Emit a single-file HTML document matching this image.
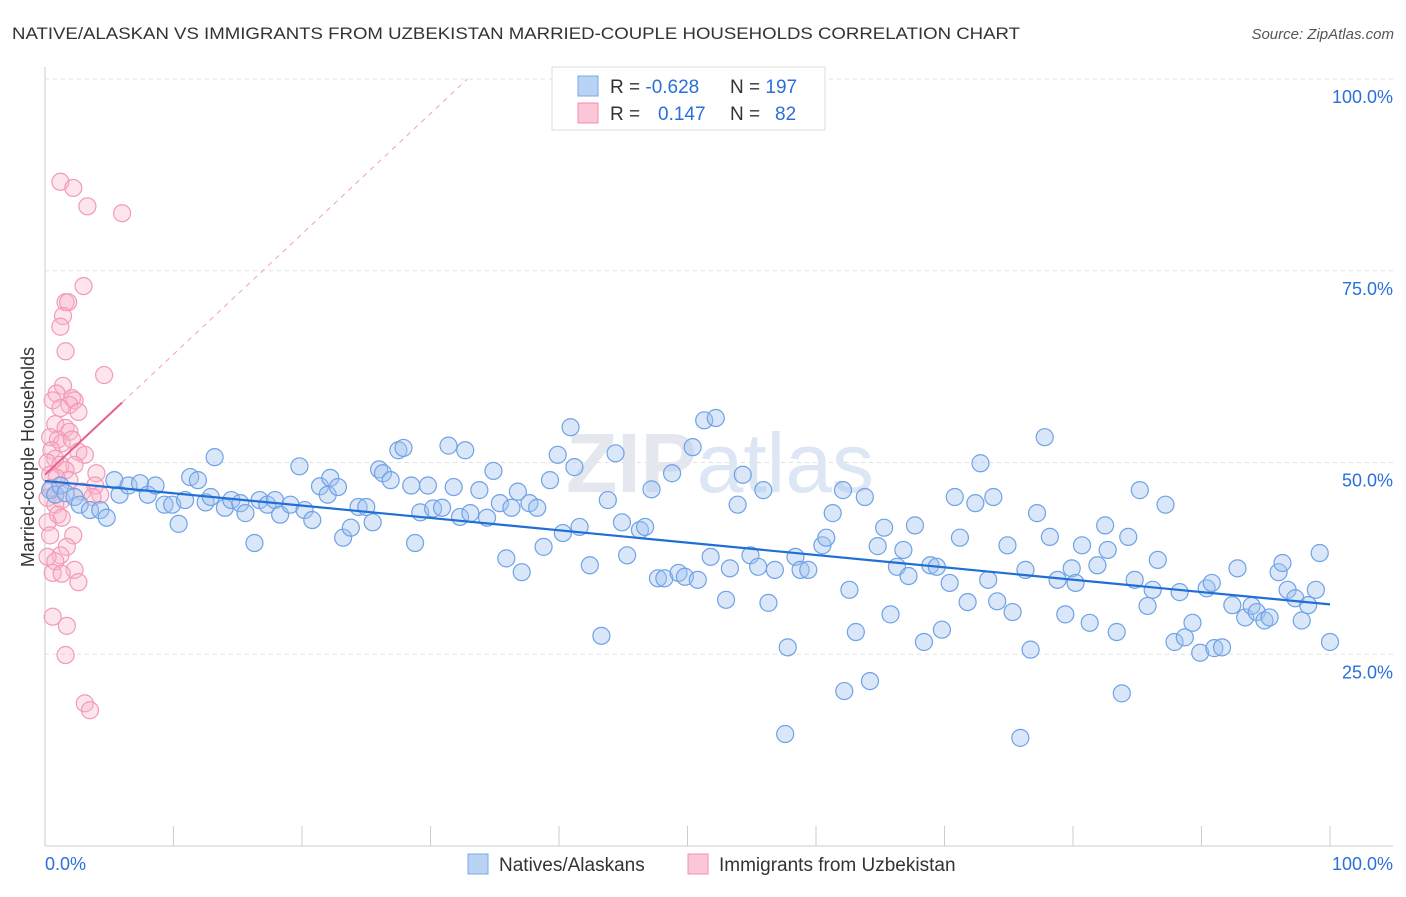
<!DOCTYPE html>
<html><head><meta charset="utf-8"><style>
body{margin:0;background:#fff;font-family:"Liberation Sans",sans-serif;}
svg text{font-family:"Liberation Sans",sans-serif;}
</style></head><body>
<svg id="chart" width="1406" height="892" xmlns="http://www.w3.org/2000/svg">
<text x="12" y="39" font-size="17" fill="#333" textLength="1008" lengthAdjust="spacingAndGlyphs">NATIVE/ALASKAN VS IMMIGRANTS FROM UZBEKISTAN MARRIED-COUPLE HOUSEHOLDS CORRELATION CHART</text>
<text x="1394" y="39" font-size="15" fill="#555" font-style="italic" text-anchor="end">Source: ZipAtlas.com</text>
<g id="grid"></g>
<text x="720" y="492" font-size="84" fill="#e4e8ee" text-anchor="middle" font-family="Liberation Serif" font-weight="bold">ZIP<tspan font-family="Liberation Sans" font-weight="normal" fill="#dce6f4">atlas</tspan></text>
<text transform="translate(34,457) rotate(-90)" font-size="18" fill="#333" text-anchor="middle">Married-couple Households</text>
<g id="marks"></g>
<g>
<rect x="552" y="67" width="273" height="63" fill="#fff" stroke="#ddd"/>
<rect x="578" y="76" width="20" height="20" fill="#b9d3f5" stroke="#7aaae8"/>
<rect x="578" y="103" width="20" height="20" fill="#fbc6d6" stroke="#f08fb0"/>
<text x="610" y="93" font-size="19" fill="#333">R = <tspan fill="#2a6fdb">-0.628</tspan><tspan x="730">N = </tspan><tspan fill="#2a6fdb">197</tspan></text>
<text x="610" y="120" font-size="19" fill="#333">R = <tspan x="658" fill="#2a6fdb">0.147</tspan><tspan x="730">N = </tspan><tspan x="775" fill="#2a6fdb">82</tspan></text>
</g>
<g>
<rect x="468" y="854" width="20" height="20" fill="#b9d3f5" stroke="#7aaae8"/>
<text x="499" y="871" font-size="19" fill="#333">Natives/Alaskans</text>
<rect x="688" y="854" width="20" height="20" fill="#fbc6d6" stroke="#f08fb0"/>
<text x="719" y="871" font-size="19" fill="#333">Immigrants from Uzbekistan</text>
</g>
</svg>
<script>
const yTicks=[25,50,75,100];
const xTickVals=[0,10,20,30,40,50,60,70,80,90,100];
const blueX=[0.4,0.8,1.2,1.6,2.3,2.7,3.5,4.3,4.8,5.4,5.8,6.5,7.4,8,8.6,9.3,9.9,10.4,10.9,11.3,11.9,12.5,12.9,13.2,14,14.5,15.2,15.6,16.3,16.7,17.3,17.9,18.3,19.1,19.8,20.2,20.8,21.4,22,22.2,22.8,23.2,23.8,24.4,25,25.5,26,26.3,26.9,27.5,27.9,28.5,28.8,29.2,29.8,30.2,30.9,31.4,31.8,32.3,32.7,33.1,33.8,34.4,34.9,35.4,35.9,36.3,36.8,37.1,37.7,38.3,38.8,39.3,39.9,40.3,40.9,41.2,41.6,42.4,43.3,43.8,44.4,44.9,45.3,46.3,46.7,47.2,47.7,48.2,48.8,49.3,49.8,50.4,50.8,51.3,51.8,52.2,53,53.3,53.9,54.3,54.9,55.5,55.9,56.3,56.8,57.6,57.8,58.4,58.8,59.4,60.5,60.8,61.3,62.1,62.2,62.6,63.1,63.8,64.2,64.8,65.3,65.8,66.3,66.8,67.2,67.7,68.4,68.9,69.4,69.8,70.4,70.8,71.2,71.8,72.4,72.8,73.4,73.8,74.1,74.9,75.3,76.3,76.7,77.2,77.8,78.2,78.8,79.4,79.9,80.2,80.7,81.3,81.9,82.5,82.7,83.4,83.8,84.3,84.8,85.2,85.8,86.2,86.6,87.2,87.9,88.3,88.7,89.3,89.9,90.4,90.8,91,91.6,92.4,92.8,93.4,93.9,94.3,94.9,95.3,96,96.3,96.7,97.3,97.8,98.3,98.9,99.2,100,75.9];
const blueY=[46.4,45.8,47,46,45.5,44.5,43.8,43.8,42.8,47.7,45.8,47,47.3,45.8,47,44.5,44.5,42,45.1,48.1,47.7,44.8,45.5,50.7,44.1,45.1,44.7,43.4,39.5,45.1,44.5,45.1,43.2,44.5,49.5,43.8,42.5,46.9,45.8,48,46.8,40.2,41.5,44.2,44.2,42.2,49.1,48.6,47.7,51.6,51.9,47,39.5,43.5,47,44,44.1,52.2,46.8,42.9,51.6,43.4,46.4,42.8,48.9,44.7,37.5,44.1,46.2,35.7,44.7,44.1,39,47.7,51,40.8,54.6,49.4,41.6,36.6,27.4,45.1,51.2,42.2,37.9,41.2,41.6,46.5,34.9,34.9,48.6,35.6,35.1,52,34.7,55.5,37.7,55.8,32.1,36.2,44.5,48.4,37.9,36.4,46.4,31.7,36,14.6,25.9,37.7,36,36,39.2,40.2,43.4,46.4,20.2,33.4,27.9,45.5,21.5,39.1,41.5,30.2,36.4,38.6,35.2,41.8,26.6,36.6,36.4,28.2,34.3,45.5,40.2,31.8,44.7,49.9,34.7,45.5,31.9,39.2,30.5,36,25.6,43.4,53.3,40.3,34.7,30.2,36.2,34.3,39.2,29.1,36.6,41.8,38.6,27.9,19.9,40.3,34.7,46.4,31.3,33.4,37.3,44.5,26.6,33.1,27.2,29.1,25.2,33.6,34.3,25.8,25.9,31.4,36.2,29.8,31.3,30.5,29.4,29.8,35.7,36.9,33.4,32.3,29.4,31.4,33.4,38.2,26.6,14.1];
const pinkX=[1.2,2.2,3.3,6,3,1.6,1.8,1.4,1.2,1.6,4.6,1.4,0.9,2.1,0.6,2.3,1.9,2.6,1.2,0.8,1.6,1.9,0.4,1,1.3,2.1,0.5,2.6,3.1,0.8,0.2,1.2,2.3,1.6,0.4,4,0.9,1.9,3.9,0.5,2.9,4.3,0.2,1.3,3.7,0.8,1,1.3,0.2,2.2,0.4,1.7,1.2,0.2,0.8,2.3,0.6,1.3,2.6,0.6,1.7,1.6,3.1,3.5];
const pinkY=[86.6,85.8,83.4,82.5,73,70.9,70.9,69.1,67.7,64.5,61.4,60,59,58.4,58.1,58.1,57.5,56.6,57.1,55,54.5,54,53.3,53,52.5,53,51.6,51.4,51,50.5,50,49.7,49.7,49,48.4,48.6,48,47.7,47,46.7,46.2,45.8,45.4,45.1,45.5,44.5,43.2,42.8,42.2,40.5,40.5,39,37.9,37.7,37.1,36,35.6,35.5,34.4,29.9,28.7,24.9,18.6,17.7];
const blueTrend=[47.6,31.5];
const pinkTrend=[48.4,1.57];
const NS='http://www.w3.org/2000/svg';
const X=v=>45+v*12.85, Y=v=>846-v*7.67;
function mk(t,a,p){const e=document.createElementNS(NS,t);for(const k in a)e.setAttribute(k,a[k]);p.appendChild(e);return e;}
const grid=document.getElementById('grid'), marks=document.getElementById('marks');
mk('line',{x1:45,y1:67,x2:45,y2:846,stroke:'#ccc'},grid);
mk('line',{x1:45,y1:846,x2:1393,y2:846,stroke:'#ccc'},grid);
for(const t of yTicks){
 const l=mk('line',{x1:45,y1:Y(t),x2:1393,y2:Y(t),stroke:'#e0e0e0','stroke-dasharray':'4,4'},grid);
 
 
 const tx=mk('text',{x:1393,y:Y(t)+24,'font-size':18,fill:'#2a6fdb','text-anchor':'end'},grid);
 tx.textContent=t.toFixed(1)+'%';
 
 
}
for(const t of xTickVals){
 if(t===0)continue;
 const l=mk('line',{x1:X(t),y1:826,x2:X(t),y2:846,stroke:'#ccc'},grid);
 
 
}
const x0=mk('text',{x:45,y:870,'font-size':18,fill:'#2a6fdb'},grid);x0.textContent='0.0%';


const x1=mk('text',{x:1393,y:870,'font-size':18,fill:'#2a6fdb','text-anchor':'end'},grid);x1.textContent='100.0%';


for(let i=0;i<pinkX.length;i++){
 const c=mk('circle',{cx:X(pinkX[i]),cy:Y(pinkY[i]),r:8.5,fill:'rgba(248,180,200,0.35)',stroke:'#f29ab8','stroke-width':1.2},marks);
 
 
}
for(let i=0;i<blueX.length;i++){
 const c=mk('circle',{cx:X(blueX[i]),cy:Y(blueY[i]),r:8.5,fill:'rgba(160,196,240,0.4)',stroke:'#6fa2e6','stroke-width':1.2},marks);
 
 
}
const bt=mk('line',{x1:X(0),y1:Y(blueTrend[0]),x2:X(100),y2:Y(blueTrend[1]),stroke:'#1f6fd6','stroke-width':2.2},marks);


const xEnd=(100-pinkTrend[0])/pinkTrend[1];
const pd=mk('line',{x1:X(6),y1:Y(pinkTrend[0]+6*pinkTrend[1]),x2:X(xEnd),y2:Y(100),stroke:'#f0a0bc','stroke-width':1,'stroke-dasharray':'5,5'},marks);


const pt=mk('line',{x1:X(0),y1:Y(pinkTrend[0]),x2:X(6),y2:Y(pinkTrend[0]+6*pinkTrend[1]),stroke:'#e8608c','stroke-width':2},marks);


</script>
</body></html>
